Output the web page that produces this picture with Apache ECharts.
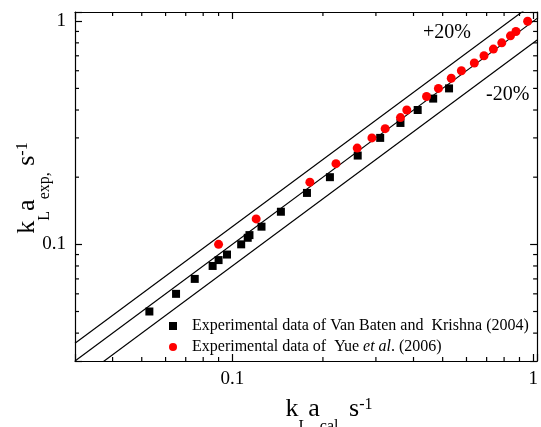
<!DOCTYPE html>
<html><head><meta charset="utf-8">
<script src="https://cdn.jsdelivr.net/npm/echarts@6/dist/echarts.min.js"></script>
<style>html,body{margin:0;padding:0;background:#fff}#c{width:541px;height:427px}</style>
</head><body><div id="c"></div>
<script>
// ---- data ----
const vanBatenX = [0.053, 0.065, 0.075, 0.086, 0.090, 0.096, 0.107, 0.1125, 0.114, 0.125, 0.145, 0.177, 0.211, 0.261, 0.310, 0.362, 0.413, 0.465, 0.525];
const vanBatenY = [0.050, 0.060, 0.070, 0.080, 0.085, 0.090, 0.100, 0.107, 0.110, 0.120, 0.140, 0.170, 0.200, 0.250, 0.300, 0.350, 0.400, 0.450, 0.500];
const yueX = [0.090, 0.120, 0.181, 0.221, 0.260, 0.291, 0.322, 0.362, 0.380, 0.442, 0.484, 0.534, 0.577, 0.637, 0.686, 0.737, 0.786, 0.840, 0.876, 0.958];
const yueY = [0.100, 0.130, 0.190, 0.230, 0.270, 0.300, 0.330, 0.370, 0.400, 0.460, 0.500, 0.555, 0.600, 0.650, 0.700, 0.750, 0.800, 0.860, 0.900, 1.000];
const refLineX = [0.03, 1.03];
const refRatios = [1.2, 1.0, 0.8];
const xMinorTicks = [0.04, 0.05, 0.06, 0.07, 0.08, 0.09, 0.2, 0.3, 0.4, 0.5, 0.6, 0.7, 0.8, 0.9];
const yMinorTicks = [0.04, 0.05, 0.06, 0.07, 0.08, 0.09, 0.2, 0.3, 0.4, 0.5, 0.6, 0.7, 0.8, 0.9];
const seriesNames = ['Experimental data of Van Baten and  Krishna (2004)', 'Experimental data of  Yue et al. (2006)'];
const X_MIN = 0.03, X_MAX = 1.03, Y_MIN = 0.03, Y_MAX = 1.1;

const FONT = 'Liberation Serif';
const chart = echarts.init(document.getElementById('c'), null, {renderer: 'canvas'});

function decadeLabel(v) {
  const e = Math.log10(v);
  const r = Math.round(e);
  if (Math.abs(e - r) < 1e-6) return r === 0 ? '1' : String(+Math.pow(10, r).toFixed(4));
  return '';
}
const axisCommon = {
  type: 'log', logBase: 10,
  axisLine: {onZero: false, lineStyle: {color: '#000', width: 1.2}},
  axisTick: {inside: true, length: 7, lineStyle: {color: '#000', width: 1.2}},
  splitLine: {show: false},
  minorTick: {show: false}
};
const labelStyle = {fontFamily: FONT, fontSize: 19, color: '#000', formatter: decadeLabel, interval: 0};

const tickLen = 4;
function minorTickSeries(isX) {
  return {
    type: 'custom', silent: true, clip: false, z: 5,
    xAxisIndex: 0, yAxisIndex: 0,
    data: isX ? xMinorTicks.map(v => [v, Y_MIN]) : yMinorTicks.map(v => [X_MIN, v]),
    renderItem: function (params, api) {
      const cs = params.coordSys;
      const st = {stroke: '#000', lineWidth: 1.2};
      if (isX) {
        const x = api.coord([api.value(0), Y_MIN])[0];
        return {type: 'group', children: [
          {type: 'line', shape: {x1: x, y1: cs.y + cs.height, x2: x, y2: cs.y + cs.height - tickLen}, style: st},
          {type: 'line', shape: {x1: x, y1: cs.y, x2: x, y2: cs.y + tickLen}, style: st}
        ]};
      } else {
        const y = api.coord([X_MIN, api.value(1)])[1];
        return {type: 'group', children: [
          {type: 'line', shape: {x1: cs.x, y1: y, x2: cs.x + tickLen, y2: y}, style: st},
          {type: 'line', shape: {x1: cs.x + cs.width, y1: y, x2: cs.x + cs.width - tickLen, y2: y}, style: st}
        ]};
      }
    }
  };
}

const titleRich = {
  m: {fontFamily: FONT, fontSize: 26, fill: '#000'},
  s: {fontFamily: FONT, fontSize: 16, fill: '#000', padding: [35, 0, 0, 0]},
  p: {fontFamily: FONT, fontSize: 16, fill: '#000', padding: [0, 0, 9, 0]}
};

const option = {
  animation: false,
  backgroundColor: '#fff',
  grid: {left: 75, right: 1, top: 12, bottom: 66, containLabel: false},
  xAxis: [
    Object.assign({}, axisCommon, {position: 'bottom', min: X_MIN, max: X_MAX, axisLabel: Object.assign({margin: 9}, labelStyle)}),
    Object.assign({}, axisCommon, {position: 'top', min: X_MIN, max: X_MAX, axisLabel: {show: false}})
  ],
  yAxis: [
    Object.assign({}, axisCommon, {position: 'left', min: Y_MIN, max: Y_MAX, axisLabel: Object.assign({margin: 9}, labelStyle)}),
    Object.assign({}, axisCommon, {position: 'right', min: Y_MIN, max: Y_MAX, axisLabel: {show: false}})
  ],
  legend: {
    data: seriesNames,
    orient: 'vertical', left: 169, top: 318, padding: 0,
    itemWidth: 8, itemHeight: 8, itemGap: 5,
    selectedMode: false,
    formatter: function (name) {
      return '{sp| }' + (name === seriesNames[1] ? 'Experimental data of  Yue {i|et al}. (2006)' : name);
    },
    textStyle: {fontFamily: FONT, fontSize: 16, color: '#000', lineHeight: 15,
      rich: {
        sp: {width: 10, fontSize: 16, lineHeight: 15},
        i: {fontFamily: FONT, fontSize: 16, fontStyle: 'italic', color: '#000', lineHeight: 15}
      }}
  },
  graphic: [
    {type: 'text', x: 329, y: 384, silent: true,
      style: {text: '{m|k}{s|L}{m|a}{s|cal,}{m| s}{p|-1}', align: 'center', verticalAlign: 'top', rich: titleRich}},
    {type: 'text', x: 27, y: 188, rotation: Math.PI / 2, silent: true,
      style: {text: '{m|k}{s|L}{m|a}{s|exp,}{m| s}{p|-1}', align: 'center', verticalAlign: 'middle', rich: titleRich}},
    {type: 'text', x: 423, y: 33, silent: true,
      style: {text: '+20%', fontFamily: FONT, fontSize: 20, fill: '#000', align: 'left', verticalAlign: 'middle'}},
    {type: 'text', x: 486, y: 95, silent: true,
      style: {text: '-20%', fontFamily: FONT, fontSize: 20, fill: '#000', align: 'left', verticalAlign: 'middle'}}
  ],
  series: [
    ...refRatios.map(r => ({
      type: 'line', name: 'ref' + r, silent: true, symbol: 'none', clip: true, z: 2,
      data: refLineX.map(x => [x, r * x]),
      lineStyle: {color: '#000', width: 1.2}
    })),
    {type: 'scatter', name: seriesNames[0], symbol: 'rect', symbolSize: 8, z: 3,
      itemStyle: {color: '#000', opacity: 1}, data: vanBatenX.map((x, i) => [x, vanBatenY[i]])},
    {type: 'scatter', name: seriesNames[1], symbol: 'circle', symbolSize: 9, z: 3,
      itemStyle: {color: '#ff0000', opacity: 1}, data: yueX.map((x, i) => [x, yueY[i]])},
    minorTickSeries(true),
    minorTickSeries(false)
  ]
};
chart.setOption(option);
</script>
</body></html>
